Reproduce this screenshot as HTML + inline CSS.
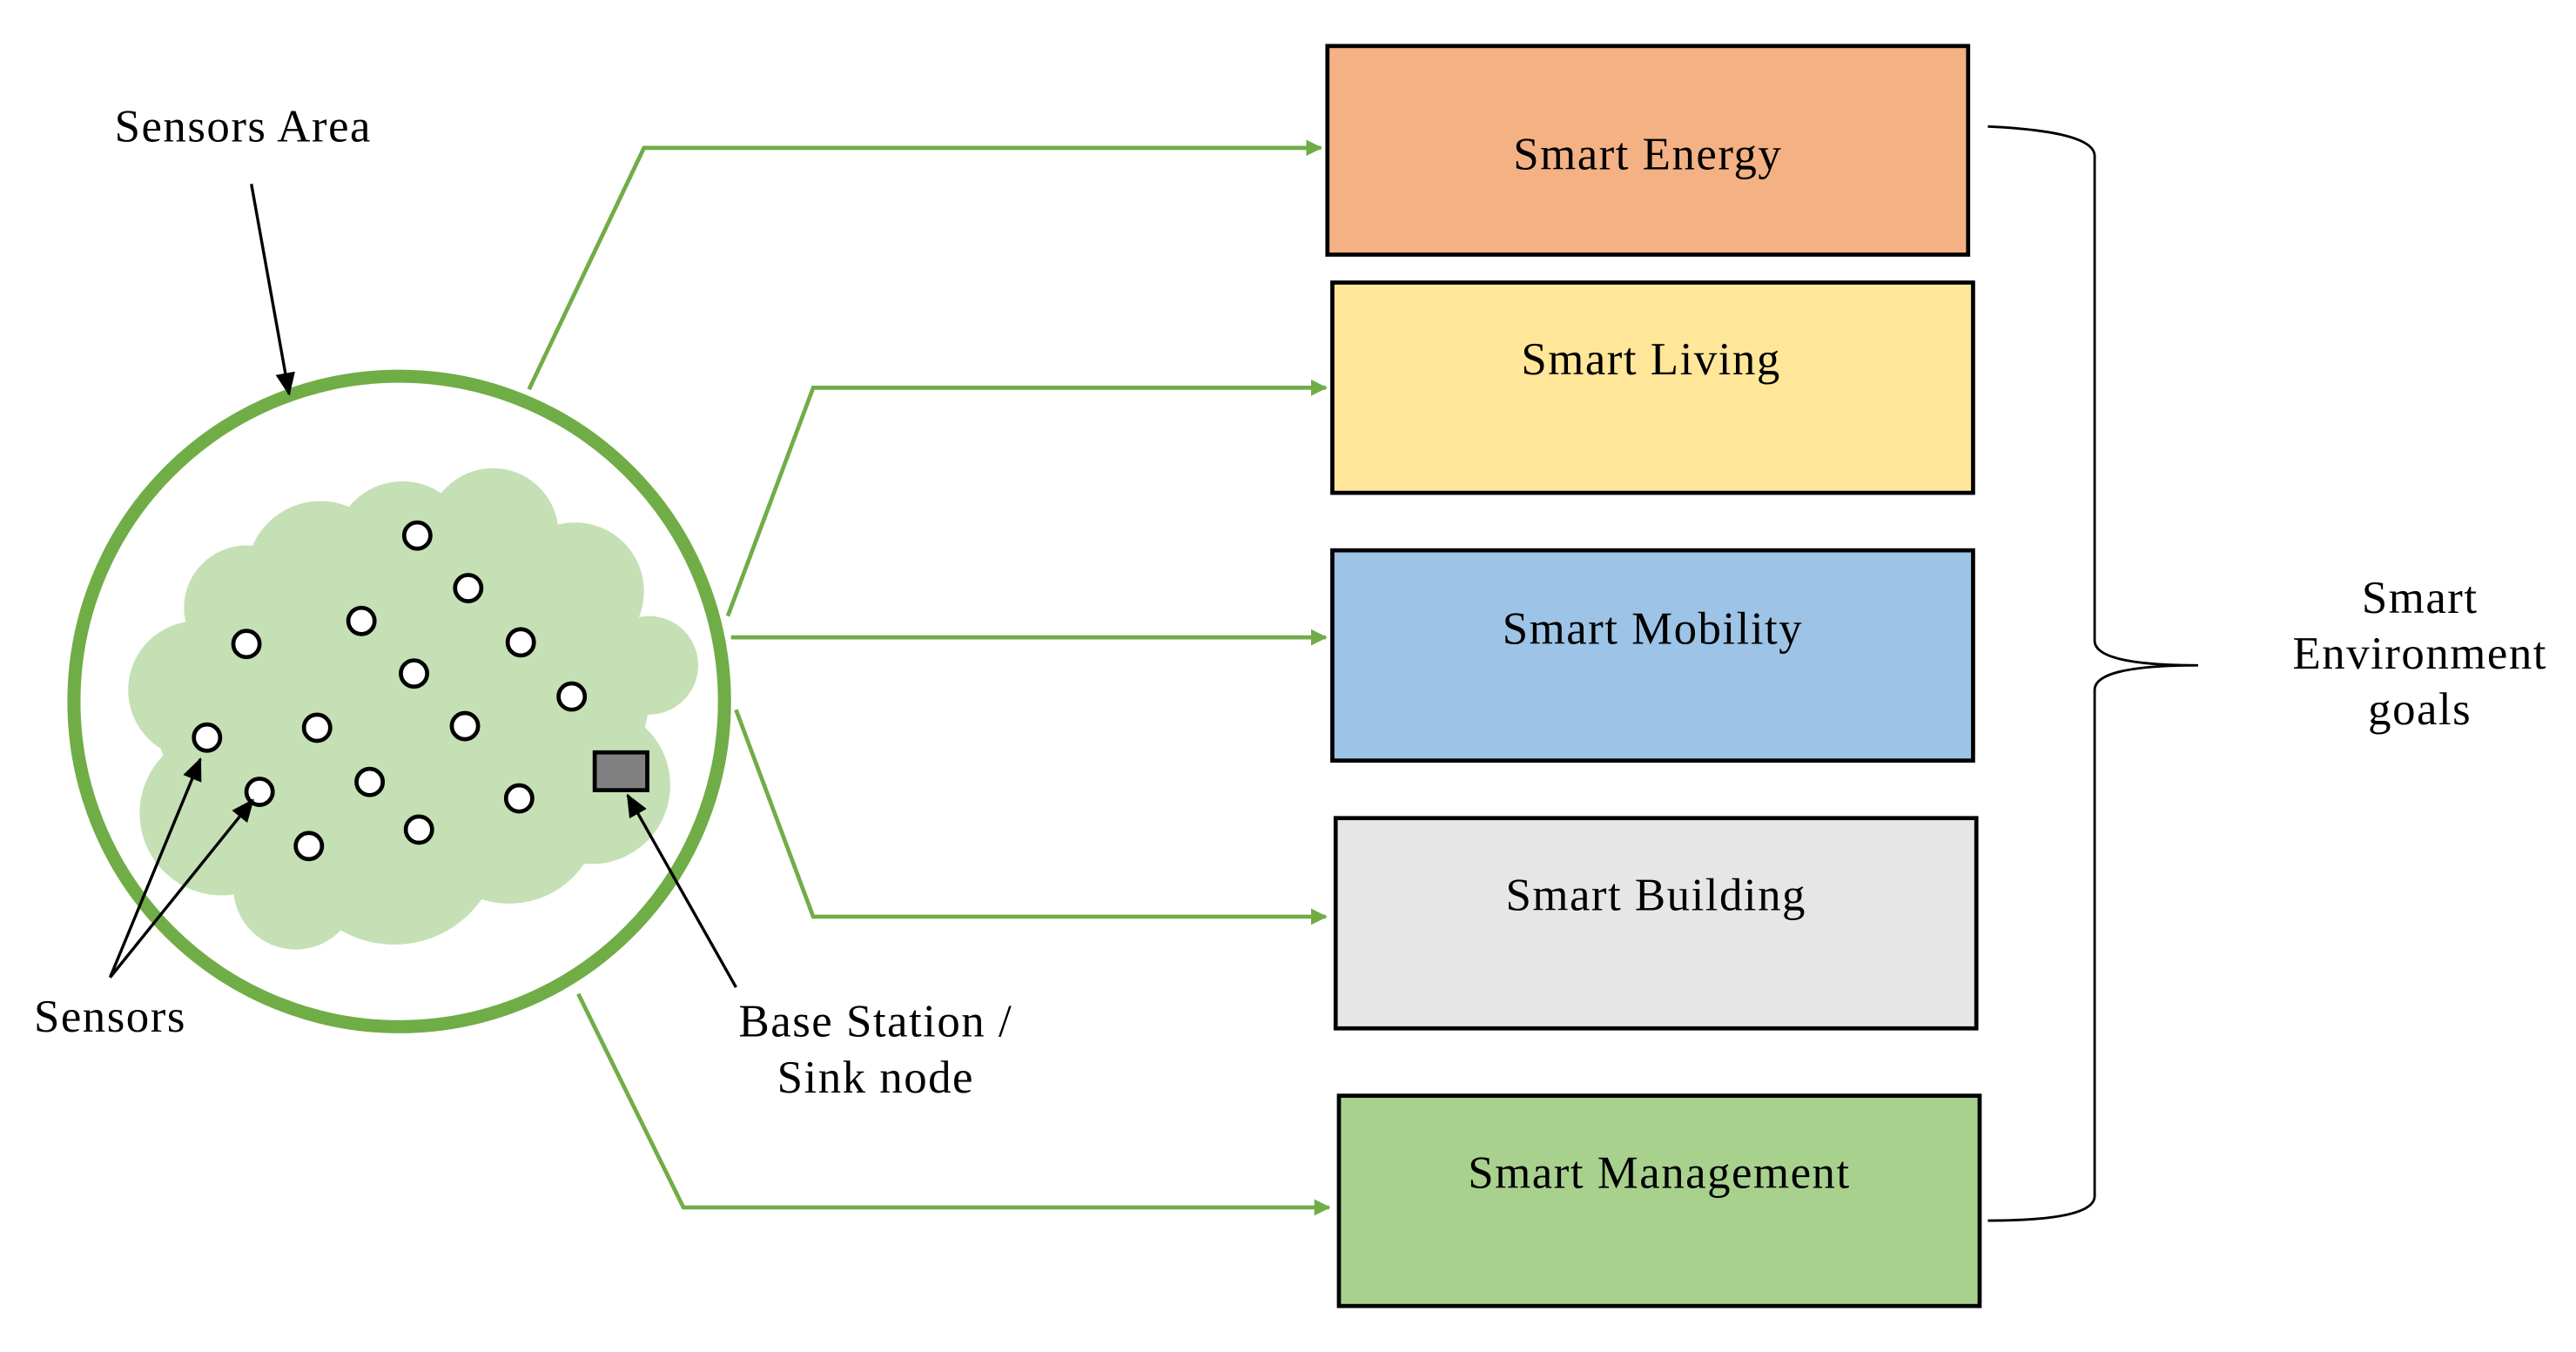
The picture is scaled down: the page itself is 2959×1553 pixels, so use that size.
<!DOCTYPE html>
<html><head><meta charset="utf-8"><style>html,body{margin:0;padding:0;background:#fff}svg{display:block}</style></head>
<body>
<svg width="2959" height="1553" viewBox="0 0 1568 823" preserveAspectRatio="none" xmlns="http://www.w3.org/2000/svg" font-family="'Liberation Serif', serif">
<defs>
<marker id="ga" markerWidth="10" markerHeight="10" refX="9" refY="5" orient="auto" markerUnits="userSpaceOnUse"><path d="M0,0 L10,5 L0,10 z" fill="#70AD47"/></marker>
<marker id="ba" markerWidth="14" markerHeight="12" refX="13" refY="6" orient="auto" markerUnits="userSpaceOnUse"><path d="M0,0 L14,6 L0,12 z" fill="#000"/></marker>
</defs>
<g fill="#C5E0B4">
<circle cx="150" cy="370" r="38"/><circle cx="120" cy="420" r="42"/><circle cx="135" cy="495" r="50"/>
<circle cx="180" cy="540" r="38"/><circle cx="240" cy="510" r="65"/><circle cx="310" cy="495" r="55"/>
<circle cx="360" cy="478" r="48"/><circle cx="395" cy="405" r="30"/><circle cx="350" cy="360" r="42"/>
<circle cx="300" cy="325" r="40"/><circle cx="245" cy="335" r="42"/><circle cx="195" cy="350" r="45"/>
<circle cx="250" cy="425" r="95"/><circle cx="330" cy="425" r="65"/><circle cx="170" cy="435" r="75"/>
</g>
<circle cx="243" cy="427" r="198" fill="none" stroke="#70AD47" stroke-width="8"/>
<g fill="#fff" stroke="#000" stroke-width="2.5">
<circle cx="254" cy="326" r="8"/><circle cx="285" cy="358" r="8"/><circle cx="150" cy="392" r="8"/><circle cx="220" cy="378" r="8"/><circle cx="317" cy="391" r="8"/><circle cx="252" cy="410" r="8"/><circle cx="348" cy="424" r="8"/><circle cx="126" cy="449" r="8"/><circle cx="193" cy="443" r="8"/><circle cx="283" cy="442" r="8"/><circle cx="158" cy="482" r="8"/><circle cx="225" cy="476" r="8"/><circle cx="316" cy="486" r="8"/><circle cx="255" cy="505" r="8"/><circle cx="188" cy="515" r="8"/>
</g>
<rect x="362" y="458" width="32" height="23" fill="#808080" stroke="#000" stroke-width="2.5"/>
<g fill="none" stroke="#70AD47" stroke-width="2.5">
<polyline points="322,237 392,90 804,90" marker-end="url(#ga)"/>
<polyline points="443,375 495,236 807,236" marker-end="url(#ga)"/>
<polyline points="445,388 807,388" marker-end="url(#ga)"/>
<polyline points="448,432 495,558 807,558" marker-end="url(#ga)"/>
<polyline points="352,605 416,735 809,735" marker-end="url(#ga)"/>
</g>
<g stroke="#000" stroke-width="1.8" fill="none">
<line x1="153" y1="112" x2="176" y2="240" marker-end="url(#ba)"/>
<line x1="67" y1="595" x2="122" y2="462" marker-end="url(#ba)"/>
<line x1="67" y1="595" x2="154" y2="487" marker-end="url(#ba)"/>
<line x1="448" y1="601" x2="382" y2="484" marker-end="url(#ba)"/>
</g>
<g stroke="#000" stroke-width="2.5">
<rect x="808" y="28" width="390" height="127" fill="#F4B183"/>
<rect x="811" y="172" width="390" height="128" fill="#FFE699"/>
<rect x="811" y="335" width="390" height="128" fill="#9DC3E6"/>
<rect x="813" y="498" width="390" height="128" fill="#E7E6E6"/>
<rect x="815" y="667" width="390" height="128" fill="#A9D18E"/>
</g>
<g font-size="28" letter-spacing="0.8" text-anchor="middle" fill="#000">
<text x="1003" y="103">Smart Energy</text>
<text x="1005" y="228">Smart Living</text>
<text x="1006" y="392">Smart Mobility</text>
<text x="1008" y="554">Smart Building</text>
<text x="1010" y="723">Smart Management</text>
<text x="1473" y="373">Smart</text>
<text x="1473" y="407">Environment</text>
<text x="1473" y="441">goals</text>
<text x="148" y="86">Sensors Area</text>
<text x="67" y="628">Sensors</text>
<text x="533" y="631">Base Station /</text>
<text x="533" y="665">Sink node</text>
</g>
<path d="M1210,77 Q1275,80 1275,95 L1275,390 Q1275,405 1338,405 Q1275,405 1275,420 L1275,728 Q1275,743 1210,743" fill="none" stroke="#000" stroke-width="1.5"/>
</svg>
</body></html>
